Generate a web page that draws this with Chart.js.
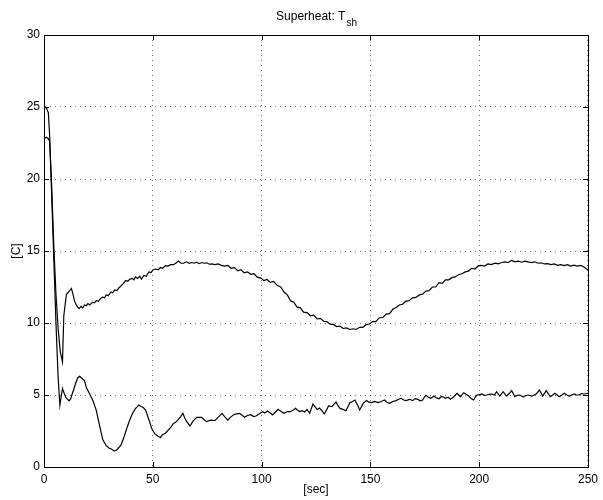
<!DOCTYPE html>
<html lang="en">
<head>
  <meta charset="UTF-8">
  <title>Superheat: Tsh</title>
  <script src="https://cdn.jsdelivr.net/npm/chart.js"></script>
  <style>
    body { margin: 0; background: #fff; }
    canvas { display: block; }
  </style>
</head>
<body>
  <canvas id="shChart" width="603" height="500"></canvas>
  <script>
    // [sec, C] pairs
    const upperTrace = [
      [0,22.8],[1,22.9],[2,22.8],[2.6,22.6],[3.5,19.6],[4.5,15.4],[5.5,12.0],[6.5,9.6],[7.5,8.0],[8.5,7.3],
      [9.1,10.5],[10.3,12.0],[11,12.1],[12.6,12.4],[13.3,12.0],[14.1,11.5],[15,11.2],[16.1,11.0],[17,11.15],[17.8,11.05],
      [18.6,11.25],[19.4,11.2],[20.2,11.35],[21,11.25],[22.4,11.45],[23.2,11.4],[24,11.55],[25,11.5],[26,11.7],[27,11.8],
      [27.8,11.75],[28.6,11.95],[29.5,11.9],[30.8,12.15],[31.6,12.1],[32.5,12.3],[33.5,12.25],[34.5,12.45],[35.5,12.6],[36.5,12.75],
      [37.6,12.95],[38.5,12.9],[39.5,13.05],[40.5,13.1],[41.3,13.0],[42.1,13.2],[43,13.1],[44,13.25],[44.8,13.05],[45.9,13.3],
      [47,13.25],[48.2,13.55],[49.2,13.5],[50.2,13.7],[51.2,13.75],[52.5,13.7],[53.5,13.85],[54.5,13.8],[55.8,13.98],[57,13.95],
      [58.2,14.05],[59.5,14.05],[60.5,14.15],[61.8,14.3],[63,14.15],[64.1,14.15],[65.5,14.25],[66.7,14.15],[67.9,14.2],[69,14.15],
      [70.2,14.22],[71.3,14.12],[72.4,14.2],[73.6,14.15],[74.8,14.18],[76,14.08],[77,14.1],[78.5,14.05],[80,14.1],[81.5,14.0],
      [83,13.95],[84.5,14.0],[86,13.8],[87.5,13.85],[89.1,13.62],[90.5,13.7],[92,13.48],[93.5,13.55],[95,13.38],[96.5,13.42],
      [98,13.18],[99.7,13.12],[101,12.95],[102.5,13.02],[104,12.82],[105.5,12.88],[107.3,12.6],[108.8,12.5],[110.3,12.15],[111.8,11.95],
      [113.3,11.55],[114.8,11.45],[116.3,11.1],[117.8,11.05],[119.3,10.75],[120.9,10.72],[122.4,10.5],[124,10.55],[125.5,10.28],[127,10.32],
      [128.5,10.12],[130,10.1],[131.5,9.92],[133,9.9],[134.5,9.75],[136,9.78],[137.5,9.62],[139,9.66],[140.5,9.55],[142.1,9.6],
      [143.5,9.55],[145,9.7],[146.5,9.7],[148,9.88],[149.7,9.95],[151,10.1],[152.5,10.1],[154,10.35],[155.8,10.4],[157.3,10.62],
      [158.8,10.65],[160.3,10.95],[161.8,11.08],[163.3,11.25],[164.8,11.3],[166.3,11.52],[167.8,11.55],[169.3,11.75],[170.9,11.78],[172.5,11.95],
      [174,12.0],[175.5,12.22],[177,12.25],[178.5,12.5],[180,12.5],[181.5,12.8],[183,12.75],[184.5,13.0],[186,13.0],[187.5,13.15],
      [189,13.2],[190.5,13.35],[192.1,13.42],[193.6,13.55],[195,13.6],[196.5,13.8],[198,13.75],[199.7,13.98],[201,14.0],[202.5,13.95],
      [204,14.1],[205.5,14.05],[207.3,14.15],[208.8,14.1],[210.3,14.2],[211.8,14.25],[213.3,14.2],[214.9,14.35],[216.4,14.25],[218,14.3],
      [219.5,14.22],[221,14.3],[222.4,14.25],[224,14.2],[225.5,14.25],[227,14.15],[228.5,14.18],[230,14.1],[231.5,14.12],[233,14.05],
      [234.5,14.1],[236,14.0],[237.5,14.05],[239,13.98],[240.6,14.05],[242,13.95],[243.5,14.02],[245,13.95],[246.7,14.0],[248,13.9],
      [249.4,13.75],[250,13.7]
    ];

    const lowerTrace = [
      [0,24.9],[0.5,25.0],[1.2,24.9],[2,24.6],[2.6,23.0],[3.5,19.0],[4.5,14.5],[5.5,10.0],[6.5,6.2],[7.3,4.3],
      [8,5.0],[8.5,5.45],[9.3,5.1],[10,4.85],[10.8,4.7],[11.5,4.6],[12.3,4.75],[13,5.1],[13.6,5.35],[14.5,5.8],
      [15.5,6.2],[16.4,6.3],[17.5,6.15],[18.6,6.0],[19.5,5.5],[20.9,5.1],[22.5,4.6],[24,3.95],[25.5,2.9],[27,1.9],
      [28.5,1.5],[30,1.3],[31,1.25],[32.3,1.1],[33.5,1.2],[35.3,1.5],[36.8,2.1],[38.3,2.8],[39.5,3.3],[40.6,3.7],
      [42,4.05],[43.6,4.3],[44.5,4.2],[45.5,4.15],[46.7,3.95],[48.2,3.3],[49.7,2.6],[51,2.3],[52.7,2.1],[53.5,2.05],
      [54.5,2.25],[55.8,2.35],[57.3,2.6],[58.5,2.8],[59.5,3.03],[60.5,3.1],[61.8,3.3],[62.8,3.5],[63.8,3.73],[64.7,3.4],
      [65.6,3.15],[67.1,2.85],[68.6,3.2],[70.2,3.45],[72.4,3.45],[73.5,3.3],[74.7,3.15],[76.5,3.25],[78.5,3.22],[80,3.45],
      [81.8,3.73],[83,3.5],[84.5,3.26],[86,3.5],[87.6,3.66],[89.9,3.73],[91,3.6],[92.1,3.45],[93.5,3.58],[95.1,3.63],
      [96.3,3.5],[97.4,3.54],[99,3.7],[100.5,3.84],[101.5,3.75],[102.7,3.89],[104,3.75],[105,3.61],[106.3,3.8],[107.6,4.0],
      [109,3.85],[110.3,3.73],[111.8,3.85],[113.3,3.84],[114.5,3.95],[115.6,4.07],[116.4,3.96],[117.5,3.85],[118.6,3.91],[119.8,3.82],
      [120.9,4.0],[122.1,3.73],[123.6,4.38],[124.5,4.2],[125.5,4.0],[126.6,4.1],[127.7,3.91],[128.8,3.68],[129.8,3.95],[130.8,4.24],
      [132.3,4.19],[133.2,4.35],[134.2,4.51],[135,4.3],[136,4.07],[137.4,4.0],[138.8,3.91],[139.7,4.2],[140.6,4.47],[141.8,4.55],
      [142.9,4.65],[144.1,4.3],[145.1,3.96],[146.7,4.42],[148.2,4.61],[149.3,4.5],[150.5,4.47],[152,4.55],[153.5,4.47],[155,4.55],
      [156.5,4.65],[157.6,4.5],[158.8,4.42],[160.3,4.55],[161.8,4.61],[163,4.7],[164.1,4.77],[165.3,4.65],[166.4,4.61],[168,4.7],
      [169.4,4.61],[170.6,4.75],[171.7,4.7],[172.9,4.6],[174,4.65],[174.8,4.85],[175.5,4.98],[176.6,4.85],[177.7,4.77],[178.5,4.85],
      [179.2,4.93],[180.4,4.8],[181.5,4.74],[182.7,4.9],[183.8,4.84],[184.5,4.77],[185.7,4.85],[186.8,4.7],[188.3,4.88],[189.8,5.12],
      [190.6,5.0],[191.4,4.88],[192.9,5.16],[194,5.05],[195.2,4.93],[196.3,4.75],[197.4,4.65],[198.2,4.85],[199,5.0],[200.1,5.02],
      [201.2,5.07],[202.3,4.98],[203.5,5.0],[204.6,5.05],[205.8,5.07],[207,5.0],[208,5.23],[209.5,4.93],[211,5.23],[212.6,4.93],
      [213.8,5.1],[214.9,5.3],[216.4,4.88],[217.5,4.98],[218.6,5.0],[220.2,4.88],[221.3,4.95],[222.4,5.0],[224.2,4.93],[225.2,5.0],
      [226.2,5.07],[227.7,5.35],[229.2,4.93],[230.8,5.3],[232.7,4.88],[233.8,5.0],[234.8,5.12],[236.8,4.88],[238,5.0],[239.1,5.12],
      [240.3,5.0],[241.4,4.93],[243.6,5.07],[244.7,5.0],[245.9,5.0],[247,5.1],[248.2,5.07],[249.7,5.12],[250,5.1]
    ];

    const xTicks = [0, 50, 100, 150, 200, 250];
    const yTicks = [0, 5, 10, 15, 20, 25, 30];

    const FONT = 'Liberation Sans, Arial, sans-serif';

    // box + inward tick marks + title with subscript, matlab style
    const matlabFrame = {
      id: 'matlabFrame',
      afterDraw(chart) {
        const ctx = chart.ctx;
        const a = chart.chartArea;
        const xs = chart.scales.x, ys = chart.scales.y;
        ctx.save();
        ctx.strokeStyle = '#000';
        ctx.lineWidth = 1;
        ctx.beginPath();
        xTicks.forEach(t => {
          const px = Math.round(xs.getPixelForValue(t)) + 0.5;
          ctx.moveTo(px, a.bottom); ctx.lineTo(px, a.bottom - 5);
          ctx.moveTo(px, a.top); ctx.lineTo(px, a.top + 5);
        });
        yTicks.forEach(t => {
          const py = Math.round(ys.getPixelForValue(t)) + 0.5;
          ctx.moveTo(a.left, py); ctx.lineTo(a.left + 5, py);
          ctx.moveTo(a.right, py); ctx.lineTo(a.right - 5, py);
        });
        ctx.stroke();
        ctx.strokeRect(Math.round(a.left) + 0.5, Math.round(a.top) + 0.5,
                       Math.round(a.right - a.left), Math.round(a.bottom - a.top));

        // title: Superheat: T_sh
        const main = 'Superheat: T', sub = 'sh';
        ctx.fillStyle = '#000';
        ctx.textBaseline = 'alphabetic';
        ctx.font = '12px ' + FONT;
        const w1 = ctx.measureText(main).width;
        ctx.font = '10px ' + FONT;
        const w2 = ctx.measureText(sub).width;
        const x0 = (a.left + a.right) / 2 - (w1 + w2) / 2;
        ctx.textAlign = 'left';
        ctx.font = '12px ' + FONT;
        ctx.fillText(main, x0, 20);
        ctx.font = '10px ' + FONT;
        ctx.fillText(sub, x0 + w1 + 1, 26);
        ctx.restore();
      }
    };

    const lineStyle = {
      borderColor: '#000',
      borderWidth: 1.2,
      pointRadius: 0,
      tension: 0,
      fill: false
    };

    new Chart(document.getElementById('shChart'), {
      type: 'line',
      data: {
        datasets: [
          Object.assign({ label: 'upper', data: upperTrace.map(p => ({ x: p[0], y: p[1] })) }, lineStyle),
          Object.assign({ label: 'lower', data: lowerTrace.map(p => ({ x: p[0], y: p[1] })) }, lineStyle)
        ]
      },
      options: {
        responsive: false,
        animation: false,
        layout: { padding: { top: 35, right: 9, left: 0, bottom: 0 } },
        plugins: {
          legend: { display: false },
          tooltip: { enabled: false }
        },
        scales: {
          x: {
            type: 'linear',
            min: 0,
            max: 250,
            afterFit: s => { s.height = 33; },
            afterBuildTicks: s => { s.ticks = xTicks.map(v => ({ value: v })); },
            ticks: { color: '#000', padding: 5, font: { family: FONT, size: 12 }, maxRotation: 0 },
            grid: { color: 'rgba(0,0,0,0.55)', lineWidth: 1, drawTicks: false },
            border: { display: true, color: '#000', dash: [1, 4] },
            title: { display: true, text: '[sec]', color: '#000', font: { family: FONT, size: 12 }, padding: { top: 0, bottom: 3 } }
          },
          y: {
            min: 0,
            max: 30,
            afterFit: s => { s.width = 44; },
            afterBuildTicks: s => { s.ticks = yTicks.map(v => ({ value: v })); },
            ticks: { color: '#000', padding: 4, font: { family: FONT, size: 12 } },
            grid: { color: 'rgba(0,0,0,0.55)', lineWidth: 1, drawTicks: false },
            border: { display: true, color: '#000', dash: [1, 4] },
            title: { display: true, text: '[C]', color: '#000', font: { family: FONT, size: 12 }, padding: { top: 9, bottom: 0 } }
          }
        }
      },
      plugins: [matlabFrame]
    });
  </script>
</body>
</html>
